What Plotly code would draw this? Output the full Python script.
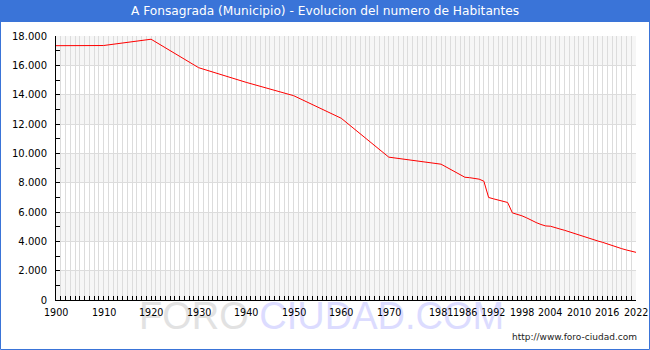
import plotly.graph_objects as go

# ---- data ----
years = [1900, 1910, 1920, 1930, 1940, 1950, 1960, 1970, 1981, 1986, 1987, 1988,
         1989, 1990, 1991, 1992, 1993, 1994, 1995, 1996, 1997, 1998, 1999, 2000,
         2001, 2002, 2003, 2004, 2005, 2006, 2007, 2008, 2009, 2010, 2011, 2012,
         2013, 2014, 2015, 2016, 2017, 2018, 2019, 2020, 2021, 2022]
habitantes = [17340, 17350, 17780, 15840, 14840, 13930, 12390, 9740, 9260, 8370, 8340, 8300,
              8240, 8100, 6990, 6900, 6800, 6720, 6650, 5940, 5850, 5740, 5600, 5420,
              5280, 5150, 5050, 5030, 4960, 4840, 4750, 4640, 4540, 4440, 4320, 4220,
              4130, 4020, 3930, 3810, 3710, 3610, 3500, 3410, 3320, 3250]
x_tick_years = [1900, 1910, 1920, 1930, 1940, 1950, 1960, 1970, 1981, 1986, 1992,
                1998, 2004, 2010, 2016, 2022]
y_tick_vals = [0, 2000, 4000, 6000, 8000, 10000, 12000, 14000, 16000, 18000]
y_tick_text = ["0", "2.000", "4.000", "6.000", "8.000", "10.000", "12.000",
               "14.000", "16.000", "18.000"]
title_text = "A Fonsagrada (Municipio) - Evolucion del numero de Habitantes"

# ---- layout geometry (pixels) ----
W, H = 650, 350
L, R, T, B = 56, 14, 36, 50
PW, PH = W - L - R, H - T - B
X0, X1 = 1900, 2022
Y0, Y1 = 0, 18000


def px2x(px):
    return (px - L) / PW


def py2y(py):
    return (H - B - py) / PH


BLUE = "#3a74d8"
GRID = "#dcdcdc"
BAND = "#f6f6f6"
FONT = "DejaVu Sans"

fig = go.Figure()
fig.add_trace(go.Scatter(x=years, y=habitantes, mode="lines",
                         line=dict(color="#ff0000", width=1), hoverinfo="skip"))

shapes = []
# alternating bands
for i in range(0, len(y_tick_vals) - 1, 2):
    shapes.append(dict(type="rect", xref="paper", yref="y", x0=0, x1=1,
                       y0=y_tick_vals[i], y1=y_tick_vals[i + 1],
                       fillcolor=BAND, line=dict(width=0), layer="below"))
# title bar
shapes.append(dict(type="rect", xref="paper", yref="paper",
                   x0=px2x(0), x1=px2x(W), y0=py2y(22), y1=py2y(0),
                   fillcolor=BLUE, line=dict(width=0), layer="above"))
# outer border
shapes.append(dict(type="rect", xref="paper", yref="paper",
                   x0=px2x(0.5), x1=px2x(W - 0.5), y0=py2y(H - 0.5), y1=py2y(0.5),
                   fillcolor="rgba(0,0,0,0)", line=dict(color=BLUE, width=1), layer="above"))

annotations = [
    dict(text=title_text, xref="paper", yref="paper", x=px2x(W / 2), y=py2y(11),
         xanchor="center", yanchor="middle", showarrow=False,
         font=dict(family=FONT, size=12.2, color="white")),
    # watermark (first, so the axis labels below are drawn over it)
    dict(text='<span style="color:#e2e2e2">FORO</span> <span style="color:#dcdcff">CIUDAD.COM</span>',
         xref="paper", yref="paper", x=px2x(321), y=py2y(316),
         xanchor="center", yanchor="middle", showarrow=False,
         font=dict(family="Liberation Sans", size=38, color="#e2e2e2")),
    dict(text="http://www.foro-ciudad.com", xref="paper", yref="paper",
         x=px2x(639), y=py2y(337), xanchor="right", yanchor="middle", showarrow=False,
         font=dict(family=FONT, size=9, color="#222222")),
]
# x-axis labels as annotations so they sit above the watermark
for yr in x_tick_years:
    annotations.append(dict(text=str(yr), xref="x", yref="paper", x=yr, y=py2y(312),
                            xanchor="center", yanchor="middle", showarrow=False,
                            font=dict(family=FONT, size=9.6, color="#000")))

fig.update_layout(
    width=W, height=H,
    margin=dict(l=L, r=R, t=T, b=B, pad=0),
    paper_bgcolor="white", plot_bgcolor="white",
    showlegend=False,
    shapes=shapes, annotations=annotations,
    font=dict(family=FONT, size=10, color="#000000"),
)
fig.update_xaxes(
    range=[X0, X1], tickvals=x_tick_years, showticklabels=False, automargin=False,
    showgrid=True, gridcolor=GRID, gridwidth=1,
    ticks="inside", ticklen=4, tickcolor="#000", tickwidth=1,
    minor=dict(dtick=1, tick0=1900, showgrid=True, gridcolor=GRID, gridwidth=1,
               ticks="inside", ticklen=4, tickcolor="#000", tickwidth=1),
    showline=True, linecolor="#000", linewidth=1,
    zeroline=False,
)
fig.update_yaxes(
    range=[Y0, Y1], tickvals=y_tick_vals, ticktext=y_tick_text, automargin=False,
    showgrid=True, gridcolor=GRID, gridwidth=1,
    ticks="inside", ticklen=4, tickcolor="#000", tickwidth=1,
    minor=dict(dtick=1000, tick0=0, showgrid=False,
               ticks="inside", ticklen=4, tickcolor="#000", tickwidth=1),
    showline=True, linecolor="#000", linewidth=1,
    zeroline=False, tickfont=dict(family=FONT, size=10, color="#000"),
    ticklabelstandoff=6,
)

fig.write_html("out.html")
